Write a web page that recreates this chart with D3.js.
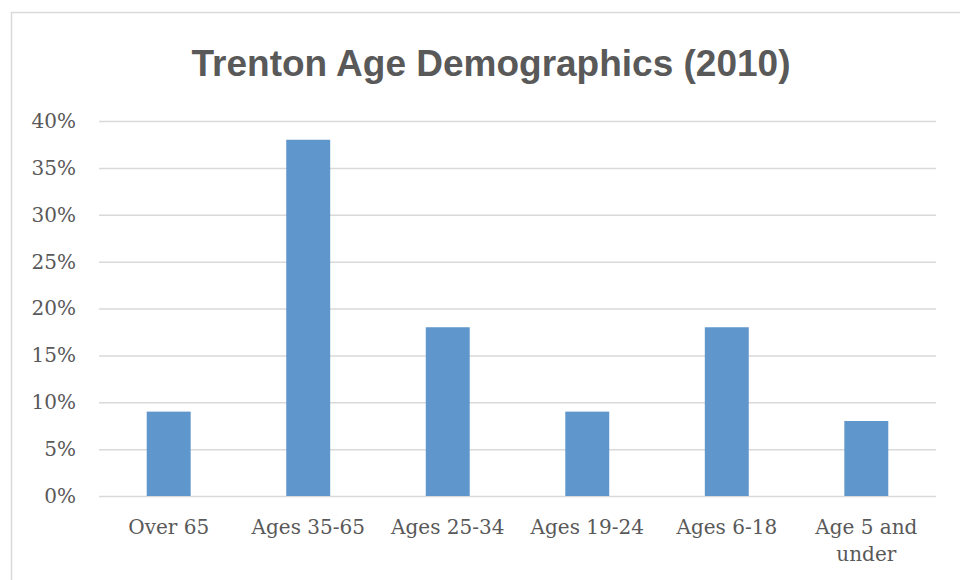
<!DOCTYPE html>
<html>
<head>
<meta charset="utf-8">
<script src="https://cdn.jsdelivr.net/npm/d3@7"></script>
<style>
  body { margin: 0; background: #fff; }
  .tick text { font-family: "DejaVu Serif", serif; fill: #595959; }
</style>
</head>
<body>
<svg id="chart" width="960" height="580"></svg>
<script>
// data
var categories = ["Over 65", "Ages 35-65", "Ages 25-34", "Ages 19-24", "Ages 6-18", "Age 5 and under"];
var shares = [9, 38, 18, 9, 18, 8];
var yTicks = [0, 5, 10, 15, 20, 25, 30, 35, 40];

var margin = {top: 121, right: 24, bottom: 84, left: 99};
var width = 960 - margin.left - margin.right;
var height = 580 - margin.top - margin.bottom;

var svg = d3.select("#chart");

// outer chart frame (runs off the right/bottom edge)
svg.append("rect")
  .attr("x", 11.5).attr("y", 12.5)
  .attr("width", 1000).attr("height", 1000)
  .attr("fill", "none")
  .attr("stroke", "#d9d9d9")
  .attr("stroke-width", 1.5);

svg.append("text")
  .attr("x", 491)
  .attr("y", 76)
  .attr("text-anchor", "middle")
  .style("font-family", "'Liberation Sans', Arial, sans-serif")
  .style("font-weight", "bold")
  .style("font-size", "37px")
  .style("fill", "#595959")
  .text("Trenton Age Demographics (2010)");

var chart = svg.append("g")
  .attr("transform", "translate(" + margin.left + "," + margin.top + ")");

var xScale = d3.scaleBand()
  .domain(categories)
  .range([0, width])
  .paddingInner(0.685)
  .paddingOuter(0.342);

var yScale = d3.scaleLinear()
  .domain([0, 40])
  .range([height, 0]);

// gridlines
chart.append("g")
  .attr("class", "grid")
  .call(d3.axisLeft(yScale).tickValues(yTicks).tickSize(-width).tickFormat(""))
  .call(g => g.select(".domain").remove())
  .call(g => g.selectAll("line").attr("stroke", "#d9d9d9").attr("stroke-width", 1.5));

// y labels
chart.append("g")
  .call(d3.axisLeft(yScale).tickValues(yTicks).tickSize(0).tickPadding(23).tickFormat(d => d + "%"))
  .call(g => g.select(".domain").remove())
  .selectAll("text")
  .style("font-size", "20px");

chart.selectAll(".bar")
  .data(shares)
  .enter()
  .append("rect")
  .attr("class", "bar")
  .attr("x", (d, i) => xScale(categories[i]))
  .attr("y", d => yScale(d))
  .attr("width", xScale.bandwidth())
  .attr("height", d => height - yScale(d))
  .attr("fill", "#5f96cb");

// x labels, wrapped like the original
var xAxis = chart.append("g")
  .attr("transform", "translate(0," + height + ")")
  .call(d3.axisBottom(xScale).tickSize(0).tickPadding(24))
  .call(g => g.select(".domain").remove());

xAxis.selectAll(".tick text")
  .style("font-size", "20px")
  .each(function(d) {
    if (d == "Age 5 and under") {
      var t = d3.select(this).text(null);
      t.append("tspan").attr("x", 0).attr("dy", "0.71em").text("Age 5 and");
      t.append("tspan").attr("x", 0).attr("dy", "1.35em").text("under");
      t.attr("dy", null);
    }
  });
</script>
</body>
</html>
